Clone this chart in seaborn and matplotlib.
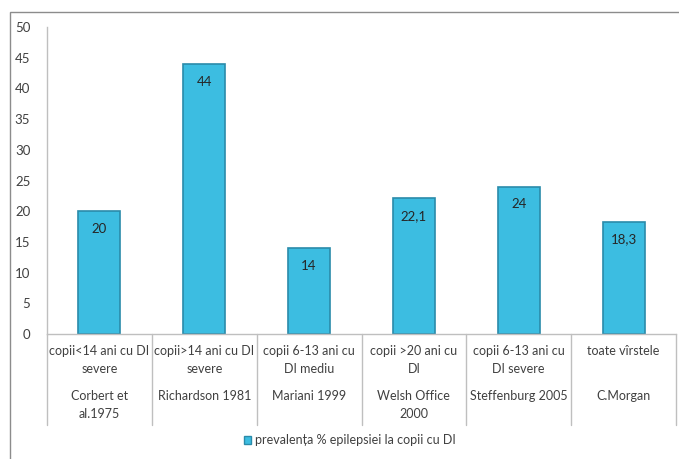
import matplotlib
matplotlib.use("Agg")
import matplotlib.pyplot as plt
import matplotlib.transforms as mtransforms
from matplotlib.patches import Rectangle, Patch
from matplotlib.lines import Line2D
import seaborn as sns
import pandas as pd

# ---- data ----
groups = ["copii<14 ani cu DI\nsevere", "copii>14 ani cu DI\nsevere", "copii 6-13 ani cu\nDI mediu",
          "copii >20 ani cu\nDI", "copii 6-13 ani cu\nDI severe", "toate vîrstele"]
studies = ["Corbert et\nal.1975", "Richardson 1981", "Mariani 1999",
           "Welsh Office\n2000", "Steffenburg 2005", "C.Morgan"]
values = [20, 44, 14, 22.1, 24, 18.3]
series_name = "prevalența % epilepsiei la copii cu DI"
yticks = [0, 5, 10, 15, 20, 25, 30, 35, 40, 45, 50]

sns.set_theme(style="white")
plt.rcParams['font.family'] = ['Lato', 'DejaVu Sans']
txt = "#404040"
fs = 9

fig = plt.figure(figsize=(6.79, 4.59), dpi=100)
ax = fig.add_axes([47/679, 1-334/459, (676-47)/679, (334-27)/459])

df = pd.DataFrame({"x": [str(i) for i in range(len(values))], "v": values})
sns.barplot(data=df, x="x", y="v", ax=ax, width=0.4, color="#3CBDE1",
            edgecolor="#2A8BAA", linewidth=1.2, saturation=1)

ax.set_ylim(0, 50)
ax.set_xlim(-0.5, len(values) - 0.5)
ax.set_yticks(yticks)
ax.set_yticklabels([str(t) for t in yticks], fontsize=fs + 0.5, color=txt)
ax.tick_params(axis='y', length=0, pad=12)
ax.set_xticks([])
ax.set_xlabel("")
ax.set_ylabel("")
for s in ["top", "right"]:
    ax.spines[s].set_visible(False)
for s in ["left", "bottom"]:
    ax.spines[s].set_color("#BFBFBF")
    ax.spines[s].set_linewidth(1.0)

# value labels inside bar top
for i, v in enumerate(values):
    lab = (f"{v:g}").replace(".", ",")
    ax.annotate(lab, (i, v), xytext=(0, -8.5), textcoords="offset points",
                ha="center", va="top", fontsize=fs + 0.5, color="#262626")

# multi-level category labels
trans = mtransforms.blended_transform_factory(ax.transData, ax.transAxes)
for i, (g, s) in enumerate(zip(groups, studies)):
    ax.text(i, -0.036, g, transform=trans, ha="center", va="top", fontsize=fs,
            color=txt, linespacing=1.6)
    ax.text(i, -0.182, s, transform=trans, ha="center", va="top", fontsize=fs,
            color=txt, linespacing=1.6)
for k in range(len(values) + 1):
    ax.add_line(Line2D([k - 0.5, k - 0.5], [0, -0.296], transform=trans,
                       color="#BFBFBF", lw=1.0, clip_on=False))

# legend
fig.legend(handles=[Patch(facecolor="#3CBDE1", edgecolor="#2A8BAA", label=series_name)],
           loc="center", bbox_to_anchor=(350/679, 1-440/459), frameon=False,
           fontsize=fs, handlelength=0.6, handleheight=0.6, handletextpad=0.3,
           labelcolor=txt)

# outer chart border
fig.patches.append(Rectangle((10/679, -0.1), 2.0, 1 - 12/459 + 0.1, transform=fig.transFigure,
                             fill=False, edgecolor="#8C8C8C", linewidth=1.0))

fig.savefig("out.png", dpi=100)
